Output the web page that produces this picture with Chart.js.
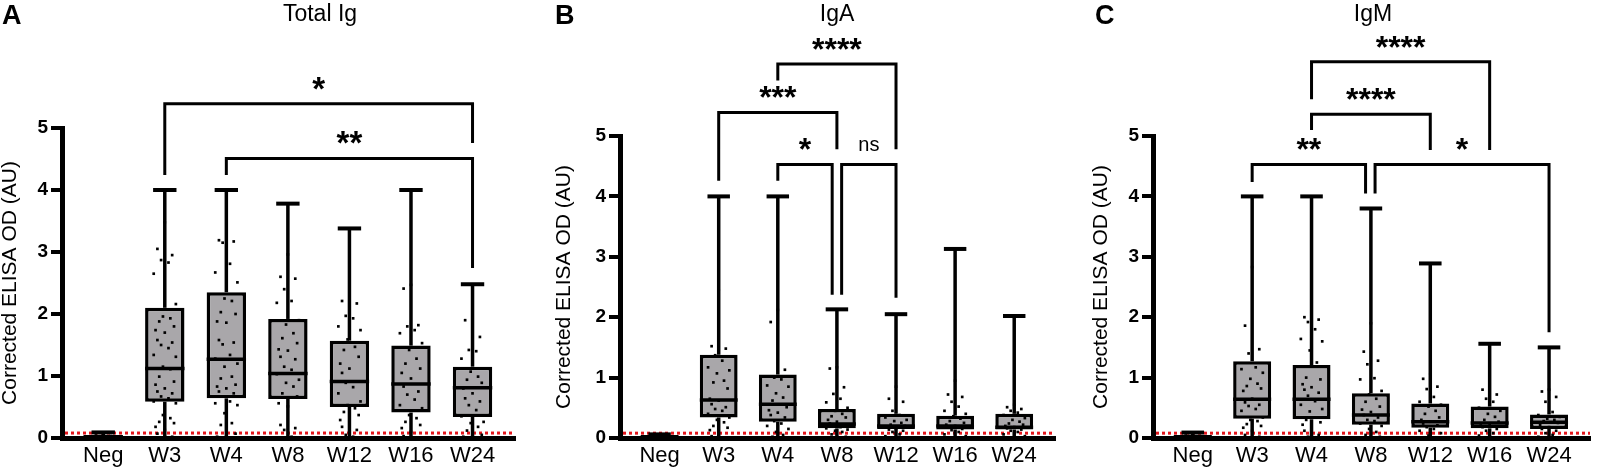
<!DOCTYPE html>
<html>
<head>
<meta charset="utf-8">
<title>Corrected ELISA OD by week</title>
<script src="https://cdn.jsdelivr.net/npm/chart.js@4.4.1/dist/chart.umd.min.js"></script>
<style>
  html, body { margin: 0; padding: 0; background: #fff; }
  #wrap { position: relative; width: 1610px; height: 470px; overflow: hidden; }
  .panel { position: absolute; top: 0; height: 470px; }
</style>
</head>
<body>
<div id="wrap">
  <div class="panel" style="left:0;width:537px"><canvas id="chartA"></canvas></div>
  <div class="panel" style="left:537px;width:536px"><canvas id="chartB"></canvas></div>
  <div class="panel" style="left:1073px;width:537px"><canvas id="chartC"></canvas></div>
</div>
<script>
/* ---- data ---- */
const groups = ['Neg', 'W3', 'W4', 'W8', 'W12', 'W16', 'W24'];
const yTicks = [0, 1, 2, 3, 4, 5];
const cutoff = 0.08;

// Total Ig
const totalMin = [0, 0, 0, 0, 0, 0, 0];
const totalQ1 = [0, 0.585, 0.64, 0.63, 0.50, 0.41, 0.34];
const totalMed = [0.02, 1.12, 1.27, 1.04, 0.91, 0.87, 0.81];
const totalQ3 = [0.04, 2.10, 2.35, 1.92, 1.57, 1.49, 1.15];
const totalMax = [0.09, 4.0, 4.0, 3.78, 3.38, 4.0, 2.48];
const totalDots = [
  [0.05, 0.04, 0.03, 0.03, 0.02, 0.02, 0.01, 0.01, 0, 0],
  [3.48, 3.05, 2.95, 2.87, 2.83, 2.65, 2.16, 1.96, 1.93, 1.88, 1.80, 1.74, 1.70, 1.58, 1.54, 1.50, 1.45, 1.34, 1.31, 1.15, 1.11, 0.99, 0.91, 0.86, 0.80, 0.75, 0.72, 0.67, 0.64, 0.59, 0.56, 0.37, 0.32, 0.26, 0.24, 0.18, 0.13, 0.07, 0.02, 0.01, 0, 0],
  [3.39, 3.19, 3.17, 3.15, 2.81, 2.67, 2.51, 2.25, 2.21, 2.03, 2.00, 1.88, 1.86, 1.58, 1.54, 1.51, 1.34, 1.28, 1.20, 1.15, 0.99, 0.96, 0.86, 0.83, 0.80, 0.75, 0.72, 0.67, 0.59, 0.56, 0.53, 0.40, 0.24, 0.21, 0.07, 0.02, 0, 0],
  [2.96, 2.60, 2.57, 2.40, 2.21, 2.18, 1.90, 1.83, 1.69, 1.61, 1.53, 1.43, 1.41, 1.31, 1.27, 1.15, 1.10, 1.03, 0.94, 0.89, 0.83, 0.72, 0.67, 0.56, 0.51, 0.21, 0.16, 0.13, 0.02, 0],
  [2.82, 2.21, 2.17, 1.97, 1.93, 1.80, 1.74, 1.59, 1.47, 1.42, 1.31, 1.20, 1.12, 1.05, 0.91, 0.89, 0.82, 0.72, 0.59, 0.53, 0.48, 0.42, 0.37, 0.29, 0.24, 0.18, 0.13, 0.05, 0.02, 0],
  [2.47, 2.41, 1.82, 1.80, 1.74, 1.69, 1.53, 1.42, 1.28, 1.20, 1.12, 1.05, 0.96, 0.83, 0.75, 0.70, 0.62, 0.53, 0.48, 0.37, 0.32, 0.26, 0.21, 0.16, 0.10, 0.03, 0],
  [1.93, 1.90, 1.63, 1.42, 1.40, 1.28, 1.12, 1.07, 0.99, 0.94, 0.89, 0.80, 0.72, 0.64, 0.59, 0.53, 0.45, 0.35, 0.26, 0.24, 0.18, 0.12, 0.05, 0.02, 0]
];
const totalBrackets = [
  { from: 1, to: 6, top: 5.39, dropFrom: 4.24, dropTo: 4.76, text: '*' },
  { from: 2, to: 6, top: 4.51, dropFrom: 4.24, dropTo: 2.74, text: '**' }
];

// IgA
const igaMin = [0, 0, 0, 0, 0, 0, 0];
const igaQ1 = [0, 0.34, 0.27, 0.16, 0.15, 0.14, 0.14];
const igaMed = [0.02, 0.63, 0.56, 0.23, 0.20, 0.20, 0.18];
const igaQ3 = [0.04, 1.38, 1.05, 0.48, 0.40, 0.37, 0.40];
const igaMax = [0.06, 4.0, 4.0, 2.13, 2.05, 3.13, 2.02];
const igaDots = [
  [0.05, 0.04, 0.03, 0.03, 0.02, 0.02, 0.01, 0.01, 0, 0],
  [2.45, 1.52, 1.48, 1.37, 1.28, 1.17, 1.12, 1.07, 0.95, 0.92, 0.82, 0.65, 0.62, 0.56, 0.51, 0.48, 0.45, 0.40, 0.34, 0.30, 0.26, 0.20, 0.17, 0.13, 0.10, 0.03, 0.01, 0],
  [2.12, 1.92, 1.13, 1.00, 0.97, 0.87, 0.85, 0.74, 0.67, 0.62, 0.51, 0.46, 0.42, 0.38, 0.34, 0.28, 0.24, 0.20, 0.15, 0.10, 0.05, 0.02, 0],
  [1.17, 1.15, 0.84, 0.73, 0.65, 0.59, 0.50, 0.45, 0.40, 0.36, 0.34, 0.30, 0.27, 0.24, 0.22, 0.20, 0.18, 0.16, 0.14, 0.12, 0.10, 0.06, 0.02, 0],
  [0.85, 0.65, 0.60, 0.45, 0.38, 0.34, 0.30, 0.28, 0.25, 0.22, 0.20, 0.18, 0.16, 0.14, 0.12, 0.10, 0.06, 0.03, 0],
  [0.95, 0.72, 0.68, 0.60, 0.52, 0.45, 0.40, 0.36, 0.32, 0.28, 0.25, 0.22, 0.20, 0.18, 0.15, 0.13, 0.10, 0.06, 0.03, 0],
  [0.55, 0.51, 0.48, 0.45, 0.42, 0.38, 0.33, 0.30, 0.27, 0.24, 0.22, 0.20, 0.18, 0.16, 0.14, 0.12, 0.10, 0.06, 0.03, 0]
];
const igaBrackets = [
  { from: 2, to: 4, top: 6.19, dropFrom: 5.92, dropTo: 4.78, text: '****' },
  { from: 1, to: 3, top: 5.39, dropFrom: 4.26, dropTo: 4.78, text: '***' },
  { from: 2, to: 3, shiftTo: -0.08, top: 4.53, dropFrom: 4.26, dropTo: 2.37, text: '*' },
  { from: 3, shiftFrom: 0.08, to: 4, top: 4.53, dropFrom: 2.37, dropTo: 2.32, text: 'ns' }
];

// IgM
const igmMin = [0, 0, 0, 0, 0, 0, 0];
const igmQ1 = [0, 0.32, 0.31, 0.22, 0.17, 0.16, 0.15];
const igmMed = [0.02, 0.64, 0.64, 0.38, 0.27, 0.25, 0.26];
const igmQ3 = [0.04, 1.27, 1.21, 0.74, 0.57, 0.52, 0.39];
const igmMax = [0.09, 4.0, 4.0, 3.80, 2.89, 1.56, 1.50];
const igmDots = [
  [0.05, 0.04, 0.03, 0.03, 0.02, 0.02, 0.01, 0.01, 0, 0],
  [2.83, 1.86, 1.47, 1.40, 1.17, 1.14, 1.08, 0.98, 0.90, 0.86, 0.82, 0.78, 0.65, 0.59, 0.55, 0.53, 0.48, 0.45, 0.34, 0.30, 0.28, 0.23, 0.20, 0.17, 0.12, 0.05, 0.02, 0],
  [2.41, 2.00, 1.96, 1.92, 1.80, 1.64, 1.60, 1.45, 1.25, 1.00, 0.97, 0.89, 0.84, 0.80, 0.75, 0.70, 0.61, 0.55, 0.48, 0.44, 0.34, 0.30, 0.26, 0.22, 0.17, 0.12, 0.05, 0.02, 0],
  [1.90, 1.43, 1.28, 1.22, 0.99, 0.97, 0.78, 0.72, 0.65, 0.60, 0.52, 0.47, 0.43, 0.38, 0.34, 0.30, 0.28, 0.24, 0.20, 0.15, 0.10, 0.05, 0.02, 0],
  [1.06, 0.98, 0.85, 0.81, 0.68, 0.60, 0.55, 0.52, 0.45, 0.40, 0.34, 0.30, 0.27, 0.24, 0.21, 0.18, 0.15, 0.12, 0.08, 0.04, 0],
  [0.84, 0.80, 0.72, 0.65, 0.60, 0.50, 0.45, 0.40, 0.35, 0.30, 0.27, 0.24, 0.21, 0.18, 0.15, 0.12, 0.08, 0.04, 0],
  [0.80, 0.77, 0.68, 0.60, 0.43, 0.38, 0.35, 0.32, 0.30, 0.28, 0.25, 0.22, 0.18, 0.15, 0.12, 0.08, 0.05, 0.02, 0]
];
const igmBrackets = [
  { from: 2, to: 5, top: 6.23, dropFrom: 5.61, dropTo: 4.77, text: '****' },
  { from: 2, to: 4, top: 5.36, dropFrom: 5.10, dropTo: 4.77, text: '****' },
  { from: 1, to: 3, shiftTo: -0.09, top: 4.53, dropFrom: 4.24, dropTo: 4.05, text: '**' },
  { from: 3, shiftFrom: 0.07, to: 6, top: 4.53, dropFrom: 4.05, dropTo: 1.75, text: '*' }
];

/* ---- drawing ---- */
const FONT = "'Liberation Sans', Arial, Helvetica, sans-serif";
Chart.defaults.font.family = FONT;
Chart.defaults.color = '#000';

// spreads the dots of one group sideways (layout only)
const spread = [0, -0.12, 0.12, -0.06, 0.06, -0.18, 0.18, -0.03, 0.09, -0.09, 0.15, -0.15];

function dotPoints(dots) {
  const pts = [];
  dots.forEach((vals, i) => {
    vals.forEach((v, k) => pts.push({ x: i + spread[k % spread.length], y: v }));
  });
  return pts;
}

function line(ctx, x1, y1, x2, y2) {
  ctx.beginPath();
  ctx.moveTo(x1, y1);
  ctx.lineTo(x2, y2);
  ctx.stroke();
}

/** Whiskers, medians, brackets and labels */
const boxPlugin = {
  id: 'boxExtras',
  beforeDatasetsDraw(chart, args, opts) {
    const { ctx, chartArea, scales: { x, y } } = chart;
    const s = opts.stats;
    ctx.save();
    // cut-off line
    ctx.strokeStyle = '#e3161c';
    ctx.lineWidth = 3;
    ctx.setLineDash([3, 3]);
    const cy = y.getPixelForValue(opts.cutoff);
    line(ctx, chartArea.left + 3, cy, chartArea.right, cy);
    ctx.setLineDash([]);
    // whiskers + caps
    ctx.strokeStyle = '#000';
    const cap = x.getPixelForValue(0.19) - x.getPixelForValue(0);
    s.max.forEach((mx, i) => {
      const px = x.getPixelForValue(i);
      ctx.lineWidth = 3.5;
      line(ctx, px, y.getPixelForValue(s.q3[i]), px, y.getPixelForValue(mx));
      line(ctx, px, y.getPixelForValue(s.min[i]), px, y.getPixelForValue(s.q1[i]));
      ctx.lineWidth = 4;
      line(ctx, px - cap, y.getPixelForValue(mx), px + cap, y.getPixelForValue(mx));
      line(ctx, px - cap, y.getPixelForValue(s.min[i]), px + cap, y.getPixelForValue(s.min[i]));
    });
    ctx.restore();
  },
  afterDatasetDraw(chart, args, opts) {
    if (args.meta.type !== 'bar') return;
    const { ctx, scales: { y } } = chart;
    ctx.save();
    ctx.strokeStyle = '#000';
    ctx.lineWidth = 3.5;
    args.meta.data.forEach((bar, i) => {
      const py = y.getPixelForValue(opts.stats.med[i]);
      line(ctx, bar.x - bar.width / 2, py, bar.x + bar.width / 2, py);
    });
    ctx.restore();
  },
  afterDraw(chart, args, opts) {
    const { ctx, scales: { x, y } } = chart;
    ctx.save();
    ctx.strokeStyle = '#000';
    ctx.fillStyle = '#000';
    ctx.lineWidth = 3;
    opts.brackets.forEach(b => {
      const x1 = x.getPixelForValue(b.from + (b.shiftFrom || 0));
      const x2 = x.getPixelForValue(b.to + (b.shiftTo || 0));
      const yt = y.getPixelForValue(b.top);
      ctx.beginPath();
      ctx.moveTo(x1, y.getPixelForValue(b.dropFrom));
      ctx.lineTo(x1, yt);
      ctx.lineTo(x2, yt);
      ctx.lineTo(x2, y.getPixelForValue(b.dropTo));
      ctx.stroke();
      ctx.textAlign = 'center';
      ctx.textBaseline = 'middle';
      if (b.text === 'ns') {
        ctx.font = '20px ' + FONT;
        ctx.fillText(b.text, (x1 + x2) / 2, yt - 19);
      } else {
        ctx.font = 'bold ' + opts.starSize + 'px ' + FONT;
        ctx.fillText(b.text, (x1 + x2) / 2, yt - 13);
      }
    });
    // panel letter and title
    ctx.textAlign = 'left';
    ctx.textBaseline = 'alphabetic';
    ctx.font = 'bold 27px ' + FONT;
    ctx.fillText(opts.letter, opts.letterX, 24);
    ctx.textAlign = 'center';
    ctx.font = '23px ' + FONT;
    ctx.fillText(opts.title, opts.titleX, 21);
    ctx.restore();
  }
};

function makeChart(id, cfg) {
  const stats = { min: cfg.min, q1: cfg.q1, med: cfg.med, q3: cfg.q3, max: cfg.max };
  new Chart(document.getElementById(id), {
    type: 'bar',
    data: {
      datasets: [
        {
          type: 'bar',
          order: 2,
          data: groups.map((g, i) => ({ x: i, y: [cfg.q1[i], cfg.q3[i]] })),
          backgroundColor: '#a9a7aa',
          borderColor: '#000',
          borderWidth: 3.5,
          borderSkipped: false,
          barPercentage: 0.64,
          categoryPercentage: 1
        },
        {
          type: 'scatter',
          order: 1,
          data: dotPoints(cfg.dots),
          pointStyle: 'rect',
          pointRadius: 1.9,
          pointBorderWidth: 0,
          pointBackgroundColor: '#000',
          pointHoverRadius: 0
        }
      ]
    },
    options: {
      responsive: true,
      maintainAspectRatio: false,
      animation: false,
      events: [],
      layout: { padding: { top: cfg.top, right: cfg.right, bottom: 0, left: cfg.left } },
      scales: {
        x: {
          type: 'linear',
          offset: false,
          min: -0.67,
          max: 6.69,
          afterBuildTicks: scale => { scale.ticks = groups.map((g, i) => ({ value: i })); },
          afterFit: scale => { scale.height = 470 - 438; },
          grid: { display: false },
          border: { display: true, color: '#000', width: 5 },
          ticks: {
            padding: -3,
            autoSkip: false,
            maxRotation: 0,
            font: { size: 22 },
            callback: v => groups[v]
          }
        },
        y: {
          min: 0,
          max: 5,
          afterBuildTicks: scale => { scale.ticks = yTicks.map(v => ({ value: v })); },
          afterFit: scale => { scale.width = cfg.axisX - cfg.left; },
          grid: { display: true, drawOnChartArea: false, color: '#000', lineWidth: 4, tickLength: 11 },
          border: { display: true, color: '#000', width: 5 },
          ticks: { padding: 3, font: { size: 19, weight: 'bold' } },
          title: {
            display: true,
            text: 'Corrected ELISA OD (AU)',
            font: { size: 21, lineHeight: 1 },
            padding: 0
          }
        }
      },
      plugins: {
        legend: { display: false },
        tooltip: { enabled: false },
        boxExtras: {
          stats: stats,
          cutoff: cutoff,
          brackets: cfg.brackets,
          letter: cfg.letter,
          letterX: cfg.letterX,
          title: cfg.title,
          titleX: cfg.titleX,
          starSize: cfg.starSize
        }
      }
    },
    plugins: [boxPlugin]
  });
}

makeChart('chartA', {
  min: totalMin, q1: totalQ1, med: totalMed, q3: totalQ3, max: totalMax, dots: totalDots,
  brackets: totalBrackets, letter: 'A', letterX: 2, title: 'Total Ig', titleX: 320,
  top: 128, right: 22, left: 0, axisX: 62, starSize: 33
});
makeChart('chartB', {
  min: igaMin, q1: igaQ1, med: igaMed, q3: igaQ3, max: igaMax, dots: igaDots,
  brackets: igaBrackets, letter: 'B', letterX: 18, title: 'IgA', titleX: 300,
  top: 136, right: 18, left: 17, axisX: 83, starSize: 32
});
makeChart('chartC', {
  min: igmMin, q1: igmQ1, med: igmMed, q3: igmQ3, max: igmMax, dots: igmDots,
  brackets: igmBrackets, letter: 'C', letterX: 22, title: 'IgM', titleX: 300,
  top: 136, right: 20, left: 18, axisX: 80, starSize: 32
});
</script>
</body>
</html>
